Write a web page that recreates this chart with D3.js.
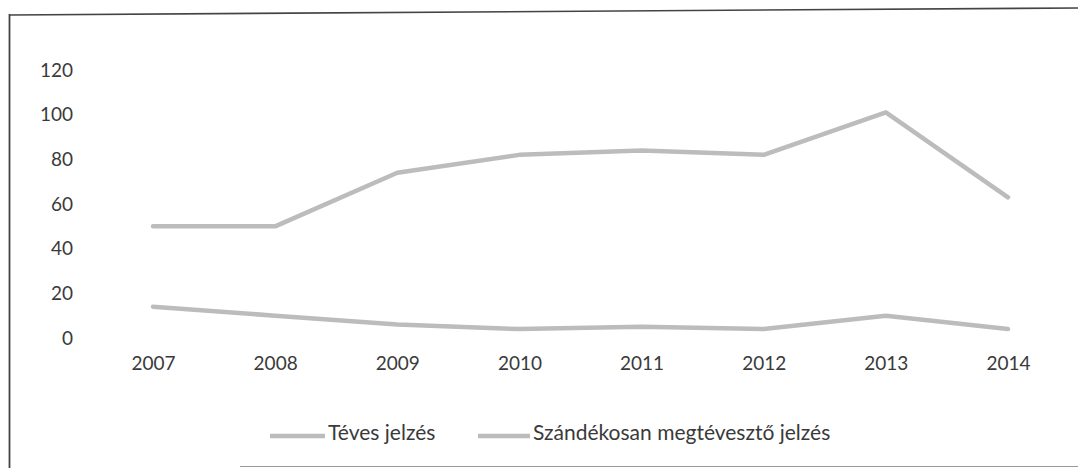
<!DOCTYPE html>
<html><head><meta charset="utf-8">
<script src="https://cdn.jsdelivr.net/npm/d3@7"></script>
<style>body{margin:0;background:#fff;} text{font-family:Lato,"Noto Sans",sans-serif;fill:#3a3a3a;}</style>
</head><body>
<svg id="c" width="1078" height="468"></svg>
<script>
const years = ["2007","2008","2009","2010","2011","2012","2013","2014"];
const teves = [50, 50, 74, 82, 84, 82, 101, 63];
const szandekos = [14, 10, 6, 4, 5, 4, 10, 4];
const yTicks = [0, 20, 40, 60, 80, 100, 120];
const seriesNames = ["Téves jelzés", "Szándékosan megtévesztő jelzés"];

const svg = d3.select("#c");
// frame (scanned box)
svg.append("line").attr("x1",9.5).attr("y1",15).attr("x2",1078).attr("y2",8).attr("stroke","#444").attr("stroke-width",1.6);
svg.append("line").attr("x1",9.5).attr("y1",14).attr("x2",9.5).attr("y2",468).attr("stroke","#444").attr("stroke-width",1.8);
svg.append("line").attr("x1",240).attr("y1",466.5).attr("x2",1078).attr("y2",466.5).attr("stroke","#999").attr("stroke-width",1.2);

const x = d3.scalePoint().domain(years).range([153, 1008]);
const y = d3.scaleLinear().domain([0,120]).range([338, 70]);

const fs = 19;
// y axis labels
const yAxis = d3.axisLeft(y).tickValues(yTicks).tickSize(0).tickPadding(0);
const ya = svg.append("g").attr("transform","translate(73,0)").call(yAxis);
ya.select(".domain").remove();
ya.selectAll("text").style("font-size",fs+"px").attr("fill","#3a3a3a");

// x axis labels
const xAxis = d3.axisBottom(x).tickSize(0).tickPadding(0);
const xa = svg.append("g").attr("transform","translate(0,356)").call(xAxis);
xa.select(".domain").remove();
xa.selectAll("text").style("font-size",fs+"px").attr("fill","#3a3a3a").attr("dy","0.71em");

const line = d3.line().x((d,i)=>x(years[i])).y(d=>y(d));
const col = "#bcbcbc";
[teves, szandekos].forEach(s=>{
  svg.append("path").datum(s).attr("d",line).attr("fill","none")
    .attr("stroke",col).attr("stroke-width",4.5).attr("stroke-linejoin","round").attr("stroke-linecap","round");
});

// legend
const leg = [{x1:270,x2:325,tx:328},{x1:478,x2:530,tx:533}];
leg.forEach((l,i)=>{
  svg.append("line").attr("x1",l.x1).attr("x2",l.x2).attr("y1",436).attr("y2",436)
    .attr("stroke",col).attr("stroke-width",4.5);
  svg.append("text").attr("x",l.tx).attr("y",440).style("font-size","21px").text(seriesNames[i]);
});
</script>
</body></html>
